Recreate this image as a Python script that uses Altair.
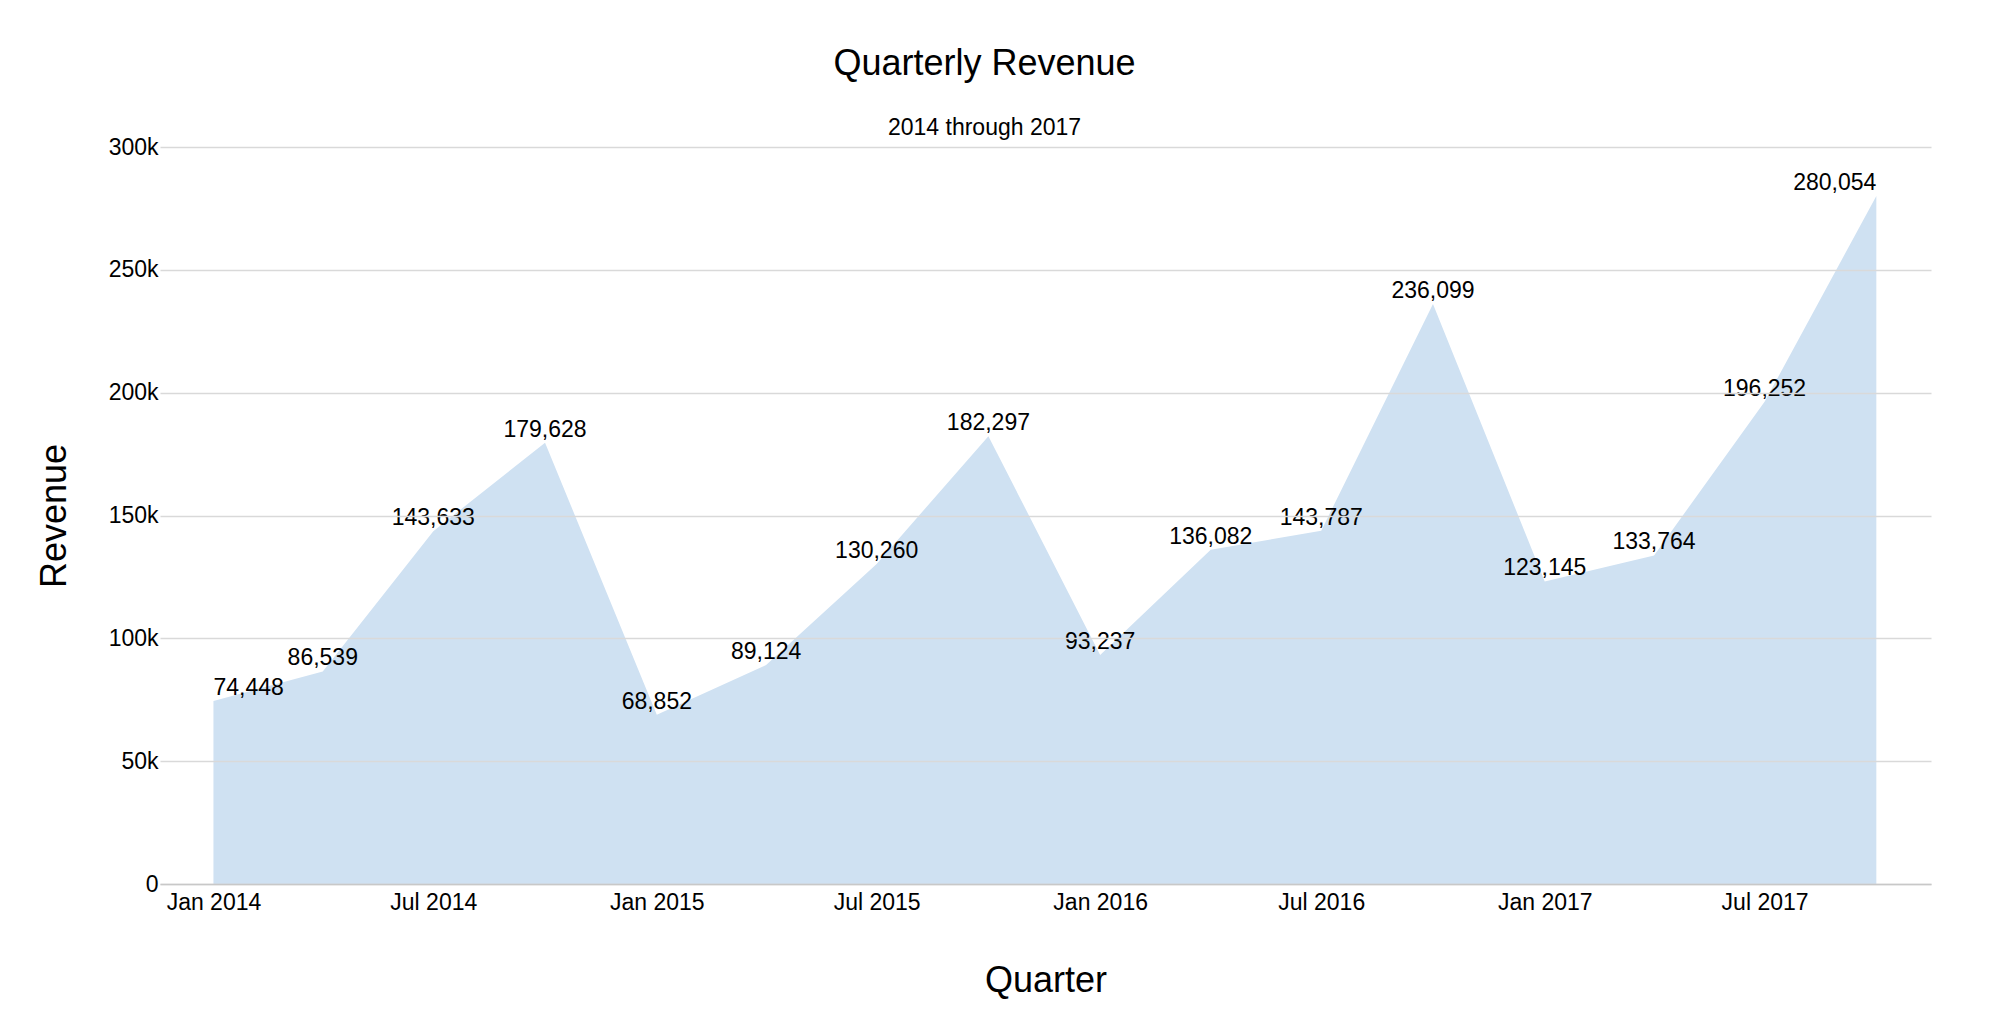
import altair as alt
import pandas as pd

quarters = ["2014-01-01", "2014-04-01", "2014-07-01", "2014-10-01",
            "2015-01-01", "2015-04-01", "2015-07-01", "2015-10-01",
            "2016-01-01", "2016-04-01", "2016-07-01", "2016-10-01",
            "2017-01-01", "2017-04-01", "2017-07-01", "2017-10-01"]
revenue = [74448, 86539, 143633, 179628,
           68852, 89124, 130260, 182297,
           93237, 136082, 143787, 236099,
           123145, 133764, 196252, 280054]
y_ticks = [0, 50000, 100000, 150000, 200000, 250000, 300000]
x_ticks = [(2014, 1), (2014, 7), (2015, 1), (2015, 7),
           (2016, 1), (2016, 7), (2017, 1), (2017, 7)]

df = pd.DataFrame({"Quarter": [q + "T00:00:00" for q in quarters],
                   "Revenue": revenue})

FONT = "Liberation Sans"
W, H = 1771, 737

x_enc = alt.X(
    "Quarter:T",
    title="Quarter",
    scale=alt.Scale(domain=[alt.DateTime(year=2013, month=11, date=18),
                            alt.DateTime(year=2017, month=11, date=15)]),
    axis=alt.Axis(
        values=[alt.DateTime(year=y, month=m, date=1) for y, m in x_ticks],
        format="%b %Y", ticks=False, grid=False,
        domainColor="#c8c8c8", domainWidth=1.5,
        labelPadding=7, labelFlush=False, labelOverlap=False,
        titleX=W / 2, titleY=96, titleBaseline="middle", zindex=1,
    ),
)
y_enc = alt.Y(
    "Revenue:Q",
    title="Revenue",
    scale=alt.Scale(domain=[0, 300000], nice=False),
    axis=alt.Axis(
        values=y_ticks, ticks=False, domain=False,
        labelExpr="datum.value == 0 ? '0' : format(datum.value, '~s')",
        labelPadding=2, gridColor="#d9d9d9", gridWidth=1.5,
        titleAngle=-90, titleBaseline="middle", titleAlign="center",
        titleX=-106, titleY=H / 2, zindex=1,
    ),
)

base = alt.Chart(df).encode(x=x_enc, y=y_enc)
area = base.mark_area(color="#cfe1f2", opacity=1)


def labels(data, align):
    return alt.Chart(data).mark_text(
        font=FONT, fontSize=23, baseline="alphabetic", dy=-6,
        color="black", align=align,
    ).encode(x=x_enc, y=y_enc, text=alt.Text("Revenue:Q", format=","))


t_first = labels(df.iloc[[0]], "left")
t_mid = labels(df.iloc[1:-1], "center")
t_last = labels(df.iloc[[-1]], "right")

chart = alt.layer(area, t_mid, t_first, t_last).properties(
    width=W, height=H,
    title=alt.TitleParams(
        text="Quarterly Revenue", subtitle="2014 through 2017",
        font=FONT, subtitleFont=FONT, fontSize=36, subtitleFontSize=23,
        fontWeight="normal", color="black", subtitleColor="black",
        anchor="middle", dx=-61, offset=-5, subtitlePadding=34,
    ),
    padding={"left": 152, "top": 139, "right": 60, "bottom": 120},
    autosize=alt.AutoSizeParams(type="none"),
).configure_axis(
    labelFont=FONT, titleFont=FONT, labelFontSize=23, titleFontSize=36,
    labelColor="black", titleColor="black", titleFontWeight="normal",
).configure_view(stroke=None)

chart.save("out.html", embed_options={"renderer": "svg", "actions": False})
